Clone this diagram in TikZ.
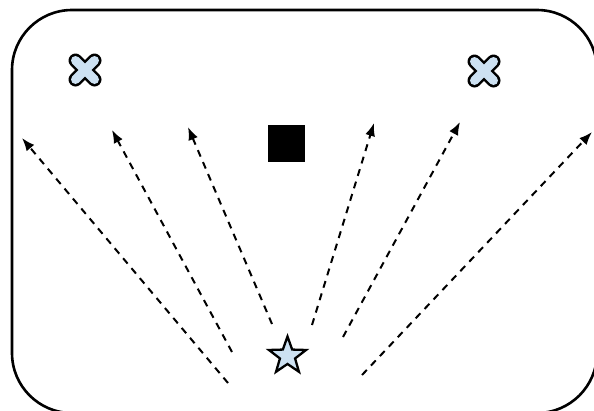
\documentclass[tikz,border=0pt]{standalone}
\usetikzlibrary{shapes.geometric,arrows.meta}
\definecolor{lightblue}{RGB}{205,225,242}
\tikzset{
  ray/.style={draw=black, line width=2pt, dash pattern=on 7pt off 6pt, -{Latex[length=13pt,width=10pt]}},
  crossout/.style={line width=14pt, line cap=round, draw=black},
  crossin/.style={line width=9pt, line cap=round, draw=lightblue},
}
\begin{document}
\begin{tikzpicture}[x=1pt,y=-1pt]
\useasboundingbox (0,0) rectangle (594,410);
\clip (0,0) rectangle (594,410);
\fill[white] (0,0) rectangle (594,410);
% frame
\draw[line width=2.6pt, rounded corners=60pt] (12,10) rectangle (597,413);
% crosses
\foreach \cx/\cy in {85/70, 484/71}{
  \draw[crossout] (\cx-9.5,\cy-9.5) -- (\cx+9.5,\cy+9.5);
  \draw[crossout] (\cx-9.5,\cy+9.5) -- (\cx+9.5,\cy-9.5);
  \draw[crossin] (\cx-9.5,\cy-9.5) -- (\cx+9.5,\cy+9.5);
  \draw[crossin] (\cx-9.5,\cy+9.5) -- (\cx+9.5,\cy-9.5);
}
% square
\node (sq) [fill=black, minimum size=37pt, inner sep=0pt] at (286.5,143) {};
% star
\node (st) [star, star points=5, star point ratio=2.45, minimum size=39pt, inner sep=0pt, fill=lightblue, draw=black, line width=2.3pt] at (287.5,356) {};
% rays
\coordinate (s1) at (228,383); \coordinate (t1) at (22,138);
\coordinate (s2) at (232,352); \coordinate (t2) at (112,130);
\coordinate (s3) at (272,324); \coordinate (t3) at (188,127);
\coordinate (s4) at (312,325); \coordinate (t4) at (374,123);
\coordinate (s5) at (343,337); \coordinate (t5) at (460,122);
\coordinate (s6) at (362,375); \coordinate (t6) at (592,132);
\foreach \i in {1,...,6}{ \draw[ray] (s\i) -- (t\i); }
\end{tikzpicture}
\end{document}
